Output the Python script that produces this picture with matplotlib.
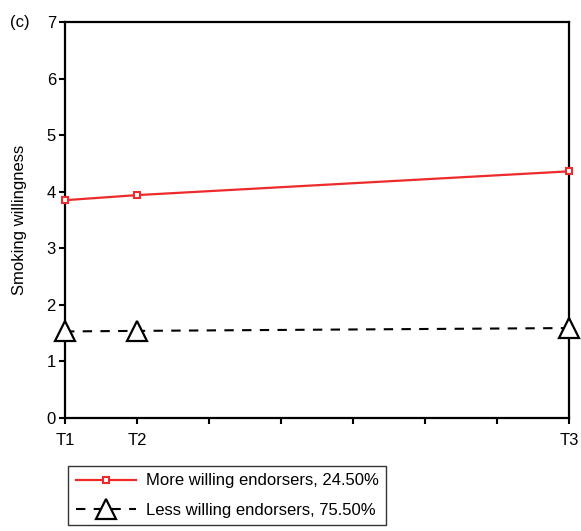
import matplotlib
matplotlib.use("Agg")
import matplotlib.pyplot as plt

plt.rcParams['font.family'] = ['Liberation Sans', 'DejaVu Sans']
plt.rcParams['font.size'] = 12

# measurement waves (T2 one month after T1, T3 after seven)
time_points = [0, 1, 7]
tick_pos = [0, 1, 2, 3, 4, 5, 6, 7]
tick_labels = ["T1", "T2", "", "", "", "", "", "T3"]

more_willing = [3.85, 3.94, 4.36]
less_willing = [1.53, 1.54, 1.59]
more_label = "More willing endorsers, 24.50%"
less_label = "Less willing endorsers, 75.50%"

fig = plt.figure(figsize=(5.81, 5.31), dpi=100)
ax = fig.add_axes([65/581, 113/531, 504/581, 396/531])

ax.plot(time_points, more_willing, color='#ee2a2a', lw=1.6, marker='s',
        markersize=5, markerfacecolor='white', markeredgecolor='#ee2a2a',
        markeredgewidth=1.5, clip_on=False, zorder=4, label=more_label)
ax.plot(time_points, less_willing, color='black', lw=1.5, dashes=(4.5, 4),
        marker='^', markersize=14, markerfacecolor='white',
        markeredgecolor='black', markeredgewidth=1.6, clip_on=False,
        zorder=4, label=less_label)

ax.set_xlim(0, 7)
ax.set_ylim(0, 7)
ax.set_xticks(tick_pos)
ax.set_xticklabels(tick_labels)
ax.set_yticks(range(0, 8))
ax.tick_params(direction='out', length=4.5, width=1.5)
ax.tick_params(axis='x', pad=6)
ax.tick_params(axis='y', pad=2)
for s in ax.spines.values():
    s.set_linewidth(1.6)
ax.set_ylabel("Smoking willingness", labelpad=14)

fig.text(10/581, 1 - 23/531, "(c)", ha='left', va='center')

leg = ax.legend(loc='upper left', bbox_to_anchor=(68/581, 1 - 466/531),
                bbox_transform=fig.transFigure, fancybox=False,
                edgecolor='black', handlelength=3.6, labelspacing=0.85,
                borderpad=0.45, handletextpad=0.6, borderaxespad=0)
leg.get_frame().set_linewidth(1.0)

fig.savefig("out.png", dpi=100)
